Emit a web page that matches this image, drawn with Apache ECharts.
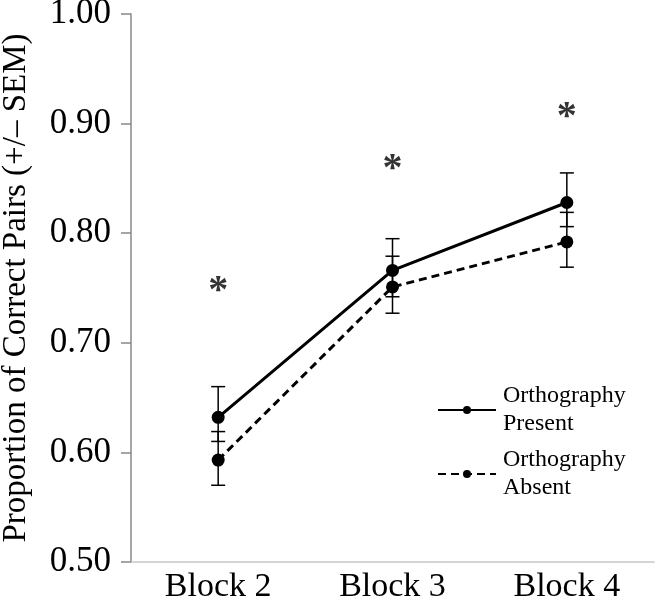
<!DOCTYPE html>
<html>
<head>
<meta charset="utf-8">
<script src="https://cdn.jsdelivr.net/npm/echarts@6/dist/echarts.min.js"></script>
<style>html,body{margin:0;padding:0;background:#fff}#c{width:656px;height:606px}</style>
</head>
<body>
<div id="c"></div>
<script>
var categories = ['Block 2', 'Block 3', 'Block 4'];
var presentMean = [0.632, 0.766, 0.828];
var presentLow = [0.610, 0.742, 0.806];
var presentHigh = [0.660, 0.795, 0.855];
var absentMean = [0.593, 0.751, 0.792];
var absentLow = [0.570, 0.727, 0.769];
var absentHigh = [0.619, 0.779, 0.819];
var starValues = [0.753, 0.864, 0.912];
var yTicks = [0.5, 0.6, 0.7, 0.8, 0.9, 1.0];
var seriesNames = ['Orthography Present', 'Orthography Absent'];
var yAxisTitle = 'Proportion of Correct Pairs (+/\u2013 SEM)';

var FONT = '"Liberation Serif", "Times New Roman", serif';

function errData(low, high) {
  return categories.map(function (c, i) { return [i, low[i], high[i]]; });
}
function errRender(params, api) {
  var x = api.value(0);
  var lo = api.coord([x, api.value(1)]);
  var hi = api.coord([x, api.value(2)]);
  var w = 7;
  var st = { stroke: '#000', lineWidth: 1.5 };
  return {
    type: 'group',
    children: [
      { type: 'line', shape: { x1: hi[0], y1: hi[1], x2: lo[0], y2: lo[1] }, style: st },
      { type: 'line', shape: { x1: hi[0] - w, y1: hi[1], x2: hi[0] + w, y2: hi[1] }, style: st },
      { type: 'line', shape: { x1: lo[0] - w, y1: lo[1], x2: lo[0] + w, y2: lo[1] }, style: st }
    ]
  };
}

var legendCommon = {
  orient: 'vertical',
  left: 437,
  padding: 0,
  itemWidth: 58,
  itemHeight: 10,
  selectedMode: false,
  formatter: function (n) { return n.replace(' ', '\n'); },
  textStyle: { fontFamily: FONT, fontSize: 24, color: '#000', lineHeight: 28, padding: [28, 0, 0, 2] }
};

var chart = echarts.init(document.getElementById('c'));
chart.setOption({
  backgroundColor: '#fff',
  animation: false,
  grid: { left: 131, right: 2, top: 14, bottom: 44, containLabel: false, outerBoundsMode: 'none' },
  legend: [
    Object.assign({}, legendCommon, { top: 368, data: [seriesNames[0]] }),
    Object.assign({}, legendCommon, { top: 432, data: [seriesNames[1]] })
  ],
  xAxis: {
    type: 'category',
    data: categories,
    boundaryGap: true,
    axisLine: { lineStyle: { color: '#c8c8c8', width: 1.5 } },
    axisTick: { show: false },
    axisLabel: { fontFamily: FONT, fontSize: 34, color: '#000', margin: 8 },
    splitLine: { show: false }
  },
  yAxis: {
    type: 'value',
    min: yTicks[0],
    max: yTicks[yTicks.length - 1],
    interval: 0.1,
    name: yAxisTitle,
    nameLocation: 'middle',
    nameGap: 98,
    nameTextStyle: { fontFamily: FONT, fontSize: 33, color: '#000' },
    axisLine: { show: true, lineStyle: { color: '#888', width: 1.5 } },
    axisTick: { show: true, length: 10, lineStyle: { color: '#888', width: 1.5 } },
    axisLabel: { fontFamily: FONT, fontSize: 35, color: '#000', margin: 20,
      formatter: function (v) { return v.toFixed(2); } },
    splitLine: { show: false }
  },
  series: [
    {
      name: seriesNames[0], type: 'line', data: presentMean,
      symbol: 'circle', symbolSize: 13,
      itemStyle: { color: '#000' },
      lineStyle: { color: '#000', width: 3, type: 'solid' },
      z: 3
    },
    {
      name: seriesNames[1], type: 'line', data: absentMean,
      symbol: 'circle', symbolSize: 13,
      itemStyle: { color: '#000' },
      lineStyle: { color: '#000', width: 3, type: [8, 5] },
      z: 3
    },
    { type: 'custom', renderItem: errRender, data: errData(presentLow, presentHigh), z: 2, silent: true },
    { type: 'custom', renderItem: errRender, data: errData(absentLow, absentHigh), z: 2, silent: true },
    {
      type: 'scatter', data: starValues, symbolSize: 1, itemStyle: { color: 'rgba(0,0,0,0)' },
      label: { show: true, position: 'inside', formatter: '*', fontFamily: FONT, fontSize: 40,
        fontWeight: 'bold', color: '#000', offset: [0, 7] },
      silent: true
    }
  ]
});
</script>
</body>
</html>
